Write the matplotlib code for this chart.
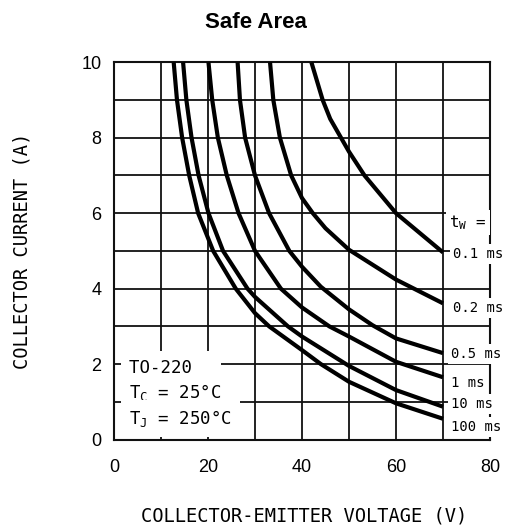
import matplotlib
matplotlib.use("Agg")
import matplotlib.pyplot as plt

# ---------------- data ----------------
pulse_widths = ["0.1 ms", "0.2 ms", "0.5 ms", "1 ms", "10 ms", "100 ms"]

v_0p1ms = [42.0, 44.4, 46.0, 48.3, 50.0, 53.3, 60.0, 70.0]
i_0p1ms = [10.0, 9.0, 8.5, 8.0, 7.63, 7.0, 6.0, 4.96]

v_0p2ms = [33.2, 33.9, 35.3, 37.7, 40.0, 42.3, 45.0, 50.0, 60.0, 70.0]
i_0p2ms = [10.0, 9.0, 8.0, 7.0, 6.4, 6.0, 5.6, 5.03, 4.24, 3.61]

v_0p5ms = [26.3, 26.8, 27.9, 30.0, 33.0, 37.3, 40.0, 44.0, 50.0, 55.0, 60.0, 70.0]
i_0p5ms = [10.0, 9.0, 8.0, 7.0, 6.0, 5.0, 4.58, 4.05, 3.45, 3.03, 2.68, 2.29]

v_1ms = [20.1, 20.9, 22.1, 24.0, 26.5, 30.0, 35.5, 40.0, 45.8, 50.0, 60.0, 70.0]
i_1ms = [10.0, 9.0, 8.0, 7.0, 6.0, 5.0, 4.0, 3.50, 3.0, 2.73, 2.06, 1.65]

v_10ms = [14.7, 15.4, 16.5, 18.0, 20.1, 23.2, 28.4, 30.0, 37.0, 40.0, 50.0, 60.0, 70.0]
i_10ms = [10.0, 9.0, 8.0, 7.0, 6.0, 5.0, 4.0, 3.78, 3.0, 2.73, 1.95, 1.31, 0.87]

v_100ms = [12.7, 13.4, 14.5, 16.0, 17.9, 21.1, 25.9, 30.0, 33.0, 40.0, 44.0, 50.0, 60.0, 70.0]
i_100ms = [10.0, 9.0, 8.0, 7.0, 6.0, 5.0, 4.0, 3.35, 3.0, 2.37, 2.0, 1.53, 0.96, 0.55]

x_ticks = [0, 20, 40, 60, 80]
y_ticks = [0, 2, 4, 6, 8, 10]

title = "Safe Area"
x_label = "COLLECTOR-EMITTER VOLTAGE (V)"
y_label = "COLLECTOR CURRENT (A)"
package_lines = ["TO-220  ", r"T$_\mathregular{C}$ = 25°C", r"T$_\mathregular{J}$ = 250°C"]

# ---------------- figure ----------------
W, H = 505, 532
fig = plt.figure(figsize=(W / 100, H / 100), dpi=100)
ax = fig.add_axes([114 / W, 1 - 439.5 / H, (490 - 114) / W, (439.5 - 62.3) / H])

mono = "DejaVu Sans Mono"
sans = "Liberation Sans"

ax.set_xlim(0, 80)
ax.set_ylim(0, 10)
ax.set_xticks(x_ticks)
ax.set_yticks(y_ticks)
ax.set_xticks(range(0, 81, 10), minor=True)
ax.set_yticks(range(0, 11, 1), minor=True)
ax.tick_params(which="both", length=0)
ax.tick_params(axis="x", pad=14, labelsize=13)
ax.tick_params(axis="y", pad=9, labelsize=13)
for lab in ax.get_xticklabels() + ax.get_yticklabels():
    lab.set_fontfamily(sans)
ax.grid(which="both", color="#111111", linewidth=1.3, zorder=1)
ax.set_axisbelow(True)
for sp in ax.spines.values():
    sp.set_linewidth(1.5)
    sp.set_color("#111111")

series = [
    (v_0p1ms, i_0p1ms),
    (v_0p2ms, i_0p2ms),
    (v_0p5ms, i_0p5ms),
    (v_1ms, i_1ms),
    (v_10ms, i_10ms),
    (v_100ms, i_100ms),
]
for v, i in series:
    ax.plot(v, i, color="black", linewidth=3.0, solid_joinstyle="round",
            solid_capstyle="butt", zorder=4)

# curve labels on the right
label_x = [72.2, 72.2, 71.8, 71.8, 71.8, 71.8]
label_y = [4.92, 3.48, 2.27, 1.51, 0.94, 0.34]
for txt, lx, ly in zip(pulse_widths, label_x, label_y):
    ax.text(lx, ly, txt, fontfamily=mono, fontsize=10, ha="left", va="center",
            bbox=dict(boxstyle="square,pad=0.22", fc="white", ec="none"),
            zorder=6, clip_on=False)
ax.text(71.3, 5.63, r"t$_\mathregular{W}$ =", fontfamily=mono, fontsize=11.5,
        ha="left", va="baseline",
        bbox=dict(boxstyle="square,pad=0.2", fc="white", ec="none"),
        zorder=6, clip_on=False)

# package / temperature note
note_y = [1.755, 1.09, 0.41]
for txt, ny in zip(package_lines, note_y):
    ax.text(3.2, ny, txt, fontfamily=mono, fontsize=12.5, ha="left",
            va="baseline",
            bbox=dict(boxstyle="square,pad=0.45", fc="white", ec="none"),
            zorder=5)

fig.text(256 / W, 1 - 28.1 / H, title, fontfamily=sans, fontweight="bold",
         fontsize=16, ha="center", va="baseline")
fig.text(304.5 / W, 1 - 521.7 / H, x_label, fontfamily=mono, fontsize=13.5,
         ha="center", va="baseline")
fig.text(22 / W, 1 - 250.9 / H, y_label, fontfamily=mono, fontsize=13.5,
         ha="center", va="center", rotation=90)

fig.savefig("out.png", dpi=100)
